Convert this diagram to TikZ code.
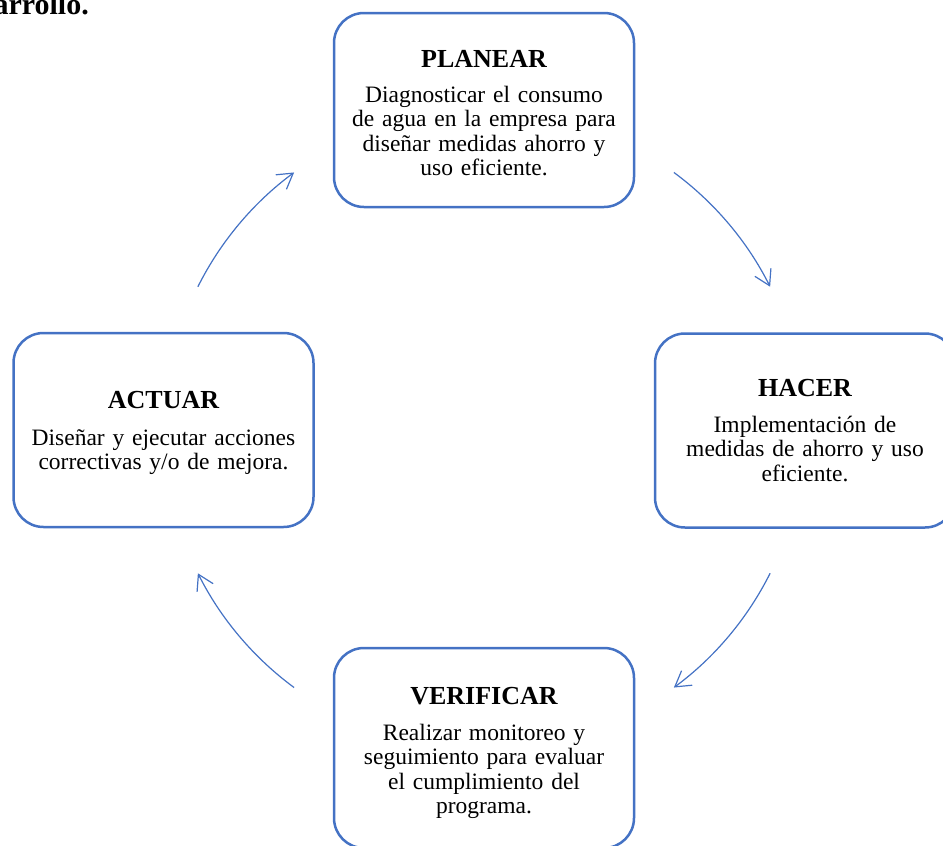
\documentclass[tikz,border=0pt]{standalone}
\usepackage{fontspec}
\setmainfont{Liberation Serif}
\usetikzlibrary{arrows.meta}
\definecolor{cycleblue}{HTML}{4472C4}
\begin{document}
\begin{tikzpicture}[x=1pt,y=-1pt,
  phasebox/.style={draw=cycleblue, line width=2.5pt, rounded corners=30pt,
    minimum width=300pt, minimum height=194pt, inner sep=0pt},
  phasetitle/.style={font=\fontsize{26}{28}\selectfont\bfseries, anchor=base, inner sep=0pt},
  phasetext/.style={font=\fontsize{23.5}{24.5}\selectfont, text width=290pt,
    align=center, anchor=base, inner sep=0pt},
  cyclearrow/.style={draw=cycleblue, line width=1.2pt,
    -{Straight Barb[length=15pt,width=18pt]}}]
  \useasboundingbox (0,0) rectangle (943,846);

  % heading fragment at the top left
  \node[font=\fontsize{30}{32}\selectfont\bfseries, anchor=base east, inner sep=0pt]
    (heading) at (89,14) {arrollo.};

  % the four phases of the cycle
  \node[phasebox] (plan) at (484,110) {};
  \node[phasetitle] (planT) at (484,67) {PLANEAR};
  \node[phasetext] (planB) at (484,102) {Diagnosticar el consumo\\de agua en la empresa para\\diseñar medidas ahorro y\\uso eficiente.};

  \node[phasebox] (do) at (805,430.5) {};
  \node[phasetitle] (doT) at (805,396) {HACER};
  \node[phasetext] (doB) at (805,432) {Implementación de\\medidas de ahorro y uso\\eficiente.};

  \node[phasebox, minimum height=200pt] (check) at (484,748) {};
  \node[phasetitle] (checkT) at (484,704) {VERIFICAR};
  \node[phasetext] (checkB) at (484,740) {Realizar monitoreo y\\seguimiento para evaluar\\el cumplimiento del\\programa.};

  \node[phasebox] (act) at (163.5,430) {};
  \node[phasetitle] (actT) at (163.5,408) {ACTUAR};
  \node[phasetext] (actB) at (163.5,445) {Diseñar y ejecutar acciones\\correctivas y/o de mejora.};

  % curved arrows running clockwise round the cycle
  \coordinate (hub) at (484,430);
  \path (hub) ++(-53.6:320) coordinate (planOut);
  \path (hub) ++(26.6:320) coordinate (doOut);
  \path (hub) ++(126.4:320) coordinate (checkOut);
  \path (hub) ++(206.6:320) coordinate (actOut);
  \draw[cyclearrow] (planOut) arc[start angle=-53.6, end angle=-26.6, radius=320];
  \draw[cyclearrow] (doOut) arc[start angle=26.6, end angle=53.6, radius=320];
  \draw[cyclearrow] (checkOut) arc[start angle=126.4, end angle=153.4, radius=320];
  \draw[cyclearrow] (actOut) arc[start angle=206.6, end angle=233.6, radius=320];
\end{tikzpicture}
\end{document}
